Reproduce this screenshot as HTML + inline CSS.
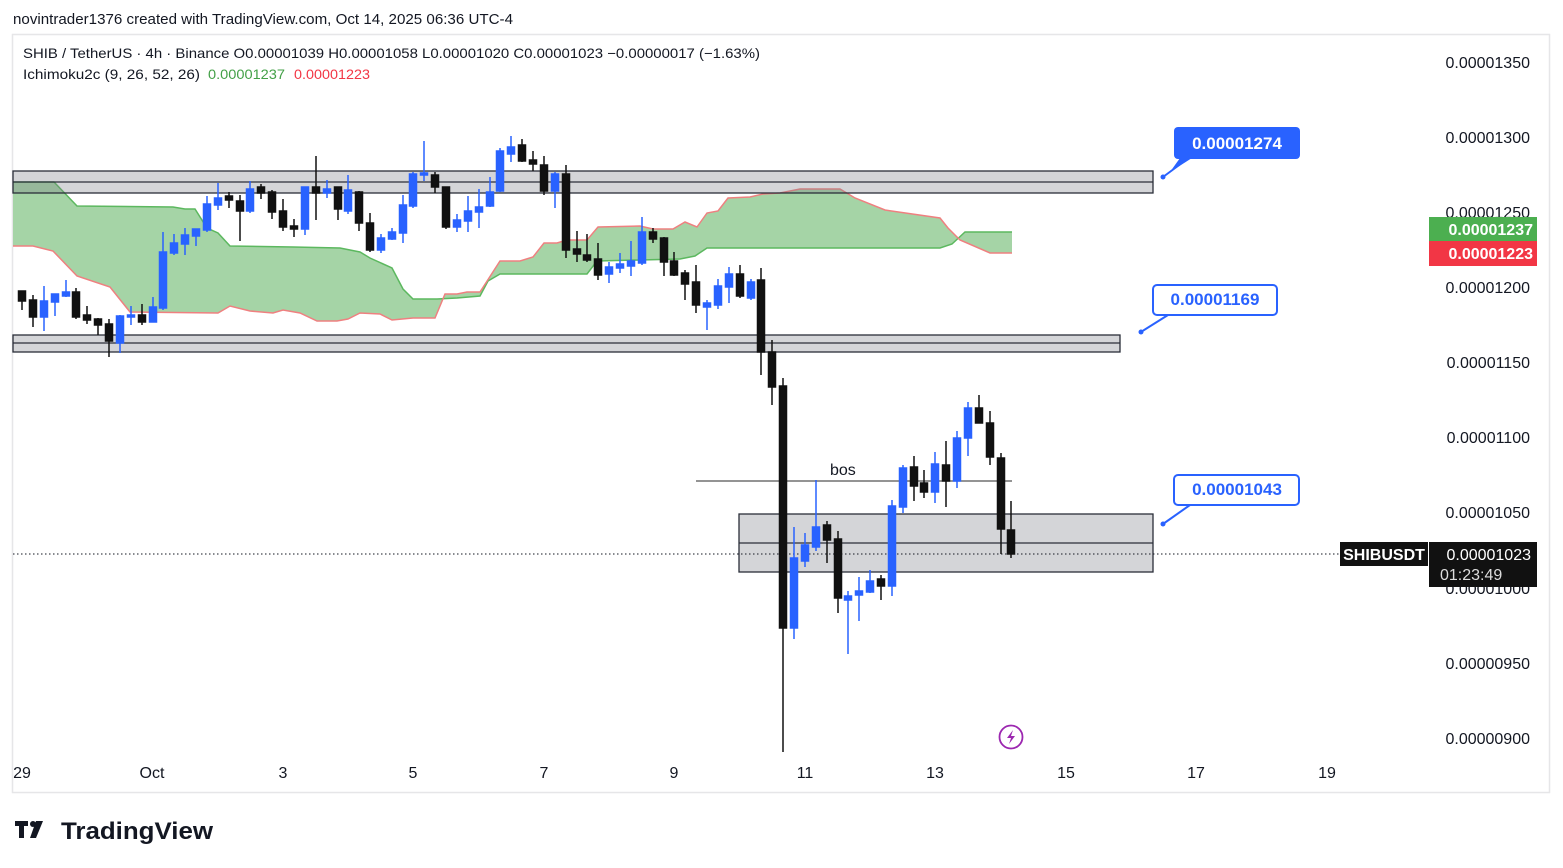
<!DOCTYPE html>
<html><head><meta charset="utf-8"><style>
html,body{margin:0;padding:0;background:#fff;}
svg{display:block;font-family:"Liberation Sans",sans-serif;}
</style></head><body>
<svg width="1563" height="868" viewBox="0 0 1563 868" xmlns="http://www.w3.org/2000/svg">
<rect width="1563" height="868" fill="#fff"/>
<text x="13" y="24" font-size="14.5" fill="#131722" textLength="500" lengthAdjust="spacingAndGlyphs">novintrader1376 created with TradingView.com, Oct 14, 2025 06:36 UTC-4</text>
<rect x="12.5" y="34.5" width="1537" height="758" fill="none" stroke="#e6e6e8" stroke-width="1.5"/>
<text x="23" y="58" font-size="14" fill="#131722" textLength="737" lengthAdjust="spacingAndGlyphs">SHIB / TetherUS · 4h · Binance  O0.00001039  H0.00001058  L0.00001020  C0.00001023  −0.00000017 (−1.63%)</text>
<text x="23" y="79" font-size="14" fill="#131722" textLength="177" lengthAdjust="spacingAndGlyphs">Ichimoku2c (9, 26, 52, 26)</text>
<text x="208" y="79" font-size="14" fill="#43a047" textLength="77" lengthAdjust="spacingAndGlyphs">0.00001237</text>
<text x="294" y="79" font-size="14" fill="#f23645" textLength="76" lengthAdjust="spacingAndGlyphs">0.00001223</text>

<!-- cloud -->
<polygon fill="#a5d4a6" points="13,182 54,182 77,206 173,207 185,209 195,209 207,228 218,233 230,246 293,247 340,248 360,252 370,258 392,268 403,289 413,299 437,299 457,298 480,296 488,281 500,274 587,274 597,261 680,259 695,256 707,248 780,248 940,248 952,244 965,232 1012,232 1012,253 990,253 960,240 948,228 940,218 885,210 855,198 840,189 800,189 780,193 763,194 750,197 728,198 718,211 707,213 697,227 685,222 673,229 653,229 640,226 598,227 587,240 567,240 557,243 544,243 533,257 520,261 500,261 480,292 467,292 457,294 445,294 435,318 413,318 392,320 380,314 360,313 348,319 337,321 317,321 300,313 283,310 273,313 250,311 230,306 218,313 130,312 110,287 77,276 53,251 33,246 13,246"/>
<polyline fill="none" stroke="#5cb85f" stroke-width="1.5" points="13,182 54,182 77,206 173,207 185,209 195,209 207,228 218,233 230,246 293,247 340,248 360,252 370,258 392,268 403,289 413,299 437,299 457,298 480,296 488,281 500,274 587,274 597,261 680,259 695,256 707,248 780,248 940,248 952,244 965,232 1012,232"/>
<polyline fill="none" stroke="#ef8080" stroke-width="1.5" points="13,246 33,246 53,251 77,276 110,287 130,312 218,313 230,306 250,311 273,313 283,310 300,313 317,321 337,321 348,319 360,313 380,314 392,320 413,318 435,318 445,294 457,294 467,292 480,292 500,261 520,261 533,257 544,243 557,243 567,240 587,240 598,227 640,226 653,229 673,229 685,222 697,227 707,213 718,211 728,198 750,197 763,194 780,193 800,189 840,189 855,198 885,210 940,218 948,228 960,240 990,253 1012,253"/>

<!-- zones -->
<rect x="13" y="171" width="1140" height="22" fill="rgba(120,123,134,0.32)" stroke="#2a2e39" stroke-width="1.3"/>
<line x1="13" y1="182" x2="1153" y2="182" stroke="#2a2e39" stroke-width="1.3"/>
<rect x="13" y="335" width="1107" height="17" fill="rgba(120,123,134,0.32)" stroke="#2a2e39" stroke-width="1.3"/>
<line x1="13" y1="343" x2="1120" y2="343" stroke="#2a2e39" stroke-width="1.3"/>
<rect x="739" y="514" width="414" height="58" fill="rgba(120,123,134,0.32)" stroke="#2a2e39" stroke-width="1.3"/>
<line x1="739" y1="543" x2="1153" y2="543" stroke="#2a2e39" stroke-width="1.3"/>
<line x1="696" y1="481" x2="1012" y2="481" stroke="#555" stroke-width="1.3"/>
<text x="830" y="475" font-size="16" fill="#131722">bos</text>
<line x1="13" y1="554" x2="1340" y2="554" stroke="#131722" stroke-width="1" stroke-dasharray="1.5,2.5"/>

<!-- candles -->
<g stroke-width="1.5">
<g stroke="#111" fill="#111">
<line x1="22" y1="291" x2="22" y2="310"/><rect x="18.5" y="291" width="7" height="10"/>
<line x1="33" y1="295" x2="33" y2="327"/><rect x="29.5" y="300" width="7" height="17"/>
<line x1="76" y1="288" x2="76" y2="319"/><rect x="72.5" y="292" width="7" height="25"/>
<line x1="87" y1="306" x2="87" y2="324"/><rect x="83.5" y="315" width="7" height="5"/>
<line x1="98" y1="318" x2="98" y2="335"/><rect x="94.5" y="319" width="7" height="6"/>
<line x1="109" y1="319" x2="109" y2="357"/><rect x="105.5" y="324" width="7" height="17"/>
<line x1="142" y1="304" x2="142" y2="325"/><rect x="138.5" y="315" width="7" height="7"/>
<line x1="229" y1="192" x2="229" y2="208"/><rect x="225.5" y="196" width="7" height="4"/>
<line x1="240" y1="195" x2="240" y2="241"/><rect x="236.5" y="201" width="7" height="10"/>
<line x1="261" y1="184" x2="261" y2="199"/><rect x="257.5" y="187" width="7" height="6"/>
<line x1="272" y1="190" x2="272" y2="219"/><rect x="268.5" y="192" width="7" height="20"/>
<line x1="283" y1="199" x2="283" y2="231"/><rect x="279.5" y="211" width="7" height="16"/>
<line x1="294" y1="219" x2="294" y2="237"/><rect x="290.5" y="226" width="7" height="3"/>
<line x1="316" y1="156" x2="316" y2="220"/><rect x="312.5" y="187" width="7" height="6"/>
<line x1="338" y1="187" x2="338" y2="220"/><rect x="334.5" y="187" width="7" height="22"/>
<line x1="359" y1="191" x2="359" y2="231"/><rect x="355.5" y="192" width="7" height="31"/>
<line x1="370" y1="213" x2="370" y2="252"/><rect x="366.5" y="223" width="7" height="27"/>
<line x1="435" y1="172" x2="435" y2="193"/><rect x="431.5" y="175" width="7" height="12"/>
<line x1="446" y1="187" x2="446" y2="229"/><rect x="442.5" y="187" width="7" height="40"/>
<line x1="522" y1="139" x2="522" y2="162"/><rect x="518.5" y="145" width="7" height="16"/>
<line x1="533" y1="151" x2="533" y2="171"/><rect x="529.5" y="160" width="7" height="4"/>
<line x1="544" y1="156" x2="544" y2="195"/><rect x="540.5" y="165" width="7" height="26"/>
<line x1="566" y1="165" x2="566" y2="258"/><rect x="562.5" y="174" width="7" height="76"/>
<line x1="577" y1="231" x2="577" y2="262"/><rect x="573.5" y="249" width="7" height="5"/>
<line x1="587" y1="234" x2="587" y2="262"/><rect x="583.5" y="255" width="7" height="5"/>
<line x1="598" y1="243" x2="598" y2="280"/><rect x="594.5" y="259" width="7" height="16"/>
<line x1="653" y1="228" x2="653" y2="243"/><rect x="649.5" y="232" width="7" height="7"/>
<line x1="664" y1="237" x2="664" y2="276"/><rect x="660.5" y="238" width="7" height="24"/>
<line x1="674" y1="252" x2="674" y2="276"/><rect x="670.5" y="261" width="7" height="14"/>
<line x1="685" y1="270" x2="685" y2="300"/><rect x="681.5" y="273" width="7" height="11"/>
<line x1="696" y1="265" x2="696" y2="313"/><rect x="692.5" y="282" width="7" height="23"/>
<line x1="740" y1="265" x2="740" y2="298"/><rect x="736.5" y="274" width="7" height="22"/>
<line x1="761" y1="268" x2="761" y2="375"/><rect x="757.5" y="280" width="7" height="72"/>
<line x1="772" y1="340" x2="772" y2="405"/><rect x="768.5" y="352" width="7" height="35"/>
<line x1="783" y1="378" x2="783" y2="752"/><rect x="779.5" y="386" width="7" height="242"/>
<line x1="827" y1="521" x2="827" y2="563"/><rect x="823.5" y="525" width="7" height="15"/>
<line x1="838" y1="531" x2="838" y2="613"/><rect x="834.5" y="539" width="7" height="59"/>
<line x1="881" y1="575" x2="881" y2="600"/><rect x="877.5" y="579" width="7" height="7"/>
<line x1="914" y1="456" x2="914" y2="501"/><rect x="910.5" y="467" width="7" height="19"/>
<line x1="924" y1="470" x2="924" y2="498"/><rect x="920.5" y="483" width="7" height="9"/>
<line x1="946" y1="441" x2="946" y2="507"/><rect x="942.5" y="465" width="7" height="16"/>
<line x1="979" y1="395" x2="979" y2="423"/><rect x="975.5" y="408" width="7" height="15"/>
<line x1="990" y1="411" x2="990" y2="465"/><rect x="986.5" y="423" width="7" height="34"/>
<line x1="1001" y1="453" x2="1001" y2="554"/><rect x="997.5" y="458" width="7" height="71"/>
<line x1="1011" y1="501" x2="1011" y2="558"/><rect x="1007.5" y="530" width="7" height="24"/>
</g>
<g stroke="#2962ff" fill="#2962ff">
<line x1="44" y1="286" x2="44" y2="331"/><rect x="40.5" y="301" width="7" height="16"/>
<line x1="55" y1="294" x2="55" y2="316"/><rect x="51.5" y="294" width="7" height="8"/>
<line x1="66" y1="280" x2="66" y2="297"/><rect x="62.5" y="292" width="7" height="4"/>
<line x1="120" y1="315" x2="120" y2="353"/><rect x="116.5" y="316" width="7" height="27"/>
<line x1="131" y1="306" x2="131" y2="325"/><rect x="127.5" y="315" width="7" height="2"/>
<line x1="153" y1="297" x2="153" y2="322"/><rect x="149.5" y="307" width="7" height="15"/>
<line x1="163" y1="232" x2="163" y2="310"/><rect x="159.5" y="252" width="7" height="56"/>
<line x1="174" y1="234" x2="174" y2="255"/><rect x="170.5" y="243" width="7" height="10"/>
<line x1="185" y1="228" x2="185" y2="255"/><rect x="181.5" y="235" width="7" height="9"/>
<line x1="196" y1="229" x2="196" y2="246"/><rect x="192.5" y="229" width="7" height="7"/>
<line x1="207" y1="196" x2="207" y2="232"/><rect x="203.5" y="204" width="7" height="26"/>
<line x1="218" y1="183" x2="218" y2="210"/><rect x="214.5" y="198" width="7" height="7"/>
<line x1="250" y1="181" x2="250" y2="213"/><rect x="246.5" y="189" width="7" height="22"/>
<line x1="305" y1="187" x2="305" y2="235"/><rect x="301.5" y="187" width="7" height="42"/>
<line x1="327" y1="180" x2="327" y2="198"/><rect x="323.5" y="189" width="7" height="4"/>
<line x1="348" y1="175" x2="348" y2="214"/><rect x="344.5" y="190" width="7" height="21"/>
<line x1="381" y1="234" x2="381" y2="253"/><rect x="377.5" y="238" width="7" height="12"/>
<line x1="392" y1="228" x2="392" y2="240"/><rect x="388.5" y="232" width="7" height="7"/>
<line x1="403" y1="195" x2="403" y2="243"/><rect x="399.5" y="205" width="7" height="28"/>
<line x1="413" y1="172" x2="413" y2="208"/><rect x="409.5" y="174" width="7" height="32"/>
<line x1="424" y1="141" x2="424" y2="181"/><rect x="420.5" y="173" width="7" height="2"/>
<line x1="457" y1="214" x2="457" y2="232"/><rect x="453.5" y="220" width="7" height="7"/>
<line x1="468" y1="196" x2="468" y2="232"/><rect x="464.5" y="211" width="7" height="10"/>
<line x1="479" y1="189" x2="479" y2="228"/><rect x="475.5" y="207" width="7" height="5"/>
<line x1="490" y1="177" x2="490" y2="207"/><rect x="486.5" y="192" width="7" height="14"/>
<line x1="500" y1="148" x2="500" y2="192"/><rect x="496.5" y="151" width="7" height="40"/>
<line x1="511" y1="136" x2="511" y2="162"/><rect x="507.5" y="147" width="7" height="7"/>
<line x1="555" y1="172" x2="555" y2="208"/><rect x="551.5" y="174" width="7" height="17"/>
<line x1="609" y1="262" x2="609" y2="283"/><rect x="605.5" y="267" width="7" height="7"/>
<line x1="620" y1="253" x2="620" y2="273"/><rect x="616.5" y="264" width="7" height="4"/>
<line x1="631" y1="241" x2="631" y2="276"/><rect x="627.5" y="261" width="7" height="5"/>
<line x1="642" y1="217" x2="642" y2="265"/><rect x="638.5" y="232" width="7" height="31"/>
<line x1="707" y1="300" x2="707" y2="330"/><rect x="703.5" y="303" width="7" height="4"/>
<line x1="718" y1="279" x2="718" y2="309"/><rect x="714.5" y="286" width="7" height="19"/>
<line x1="729" y1="267" x2="729" y2="303"/><rect x="725.5" y="274" width="7" height="13"/>
<line x1="751" y1="279" x2="751" y2="300"/><rect x="747.5" y="282" width="7" height="16"/>
<line x1="794" y1="527" x2="794" y2="639"/><rect x="790.5" y="558" width="7" height="70"/>
<line x1="805" y1="533" x2="805" y2="567"/><rect x="801.5" y="545" width="7" height="16"/>
<line x1="816" y1="480" x2="816" y2="551"/><rect x="812.5" y="527" width="7" height="20"/>
<line x1="848" y1="591" x2="848" y2="654"/><rect x="844.5" y="596" width="7" height="4"/>
<line x1="859" y1="577" x2="859" y2="621"/><rect x="855.5" y="591" width="7" height="4"/>
<line x1="870" y1="570" x2="870" y2="593"/><rect x="866.5" y="581" width="7" height="11"/>
<line x1="892" y1="500" x2="892" y2="596"/><rect x="888.5" y="506" width="7" height="80"/>
<line x1="903" y1="465" x2="903" y2="513"/><rect x="899.5" y="468" width="7" height="39"/>
<line x1="935" y1="452" x2="935" y2="503"/><rect x="931.5" y="464" width="7" height="28"/>
<line x1="957" y1="431" x2="957" y2="488"/><rect x="953.5" y="438" width="7" height="43"/>
<line x1="968" y1="402" x2="968" y2="456"/><rect x="964.5" y="408" width="7" height="30"/>
</g>
</g>

<!-- callouts -->
<line x1="1163" y1="177" x2="1190" y2="157" stroke="#2962ff" stroke-width="2"/>
<circle cx="1163" cy="177" r="2.5" fill="#2962ff"/>
<rect x="1174" y="127" width="126" height="32" rx="4" fill="#2962ff"/>
<polygon points="1180,158 1192,158 1170,172" fill="#2962ff"/>
<text x="1237" y="149" font-size="17" font-weight="bold" fill="#fff" text-anchor="middle">0.00001274</text>

<line x1="1141" y1="332" x2="1168" y2="315" stroke="#2962ff" stroke-width="2"/>
<circle cx="1141" cy="332" r="2.5" fill="#2962ff"/>
<rect x="1153" y="285" width="124" height="30" rx="4" fill="#fff" stroke="#2962ff" stroke-width="2"/>
<text x="1215" y="305" font-size="17" font-weight="bold" fill="#2962ff" text-anchor="middle">0.00001169</text>

<line x1="1163" y1="524" x2="1190" y2="505" stroke="#2962ff" stroke-width="2"/>
<circle cx="1163" cy="524" r="2.5" fill="#2962ff"/>
<rect x="1174" y="475" width="125" height="30" rx="4" fill="#fff" stroke="#2962ff" stroke-width="2"/>
<text x="1237" y="495" font-size="17" font-weight="bold" fill="#2962ff" text-anchor="middle">0.00001043</text>

<!-- price axis -->
<g font-size="16" fill="#131722" text-anchor="end">
<text x="1530" y="68">0.00001350</text>
<text x="1530" y="143">0.00001300</text>
<text x="1530" y="218">0.00001250</text>
<text x="1530" y="293">0.00001200</text>
<text x="1530" y="368">0.00001150</text>
<text x="1530" y="443">0.00001100</text>
<text x="1530" y="518">0.00001050</text>
<text x="1530" y="594">0.00001000</text>
<text x="1530" y="669">0.00000950</text>
<text x="1530" y="744">0.00000900</text>
</g>
<rect x="1429" y="217" width="108" height="24" fill="#4caf50"/>
<text x="1533" y="235" font-size="16" font-weight="bold" fill="#fff" text-anchor="end">0.00001237</text>
<rect x="1429" y="241" width="108" height="25" fill="#f23645"/>
<text x="1533" y="259" font-size="16" font-weight="bold" fill="#fff" text-anchor="end">0.00001223</text>
<rect x="1340" y="542" width="88" height="24" fill="#111"/>
<text x="1384" y="560" font-size="16" font-weight="bold" fill="#fff" text-anchor="middle">SHIBUSDT</text>
<rect x="1429" y="542" width="108" height="45" fill="#111"/>
<text x="1531" y="560" font-size="16" fill="#fff" text-anchor="end">0.00001023</text>
<text x="1440" y="580" font-size="16" fill="#ddd">01:23:49</text>

<!-- time axis -->
<g font-size="16" fill="#131722" text-anchor="middle">
<text x="22" y="778">29</text>
<text x="152" y="778">Oct</text>
<text x="283" y="778">3</text>
<text x="413" y="778">5</text>
<text x="544" y="778">7</text>
<text x="674" y="778">9</text>
<text x="805" y="778">11</text>
<text x="935" y="778">13</text>
<text x="1066" y="778">15</text>
<text x="1196" y="778">17</text>
<text x="1327" y="778">19</text>
</g>

<circle cx="1011" cy="737" r="11.5" fill="#fff" stroke="#9c27b0" stroke-width="1.8"/>
<path d="M1013,730 L1007,738 L1011,738 L1009,744 L1015,736 L1011,736 Z" fill="#9c27b0"/>

<!-- logo -->
<path d="M15,821 h13 v5 h-4 v12 h-5 v-12 h-4 z" fill="#131722"/>
<circle cx="33" cy="824" r="3" fill="#131722"/>
<path d="M36,821 h7 l-7,17 h-6 z" fill="#131722"/>
<text x="61" y="839" font-size="24" font-weight="bold" fill="#131722" textLength="152" lengthAdjust="spacingAndGlyphs">TradingView</text>
</svg>
</body></html>
